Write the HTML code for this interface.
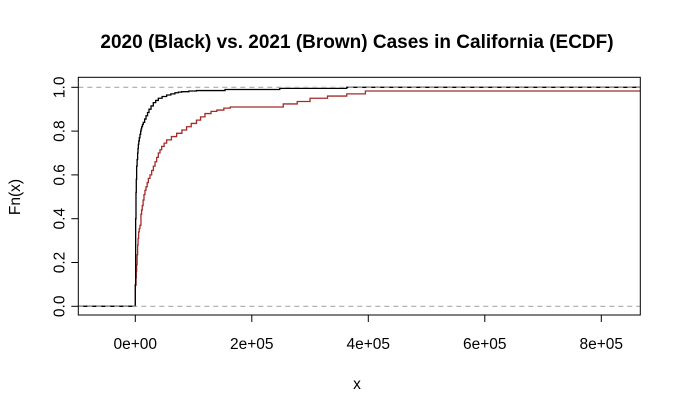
<!DOCTYPE html>
<html><head><meta charset="utf-8"><style>
body{margin:0;background:#fff;}
svg text{font-family:"Liberation Sans",Arial,sans-serif;}
</style></head><body>
<svg id="chart" width="681" height="413" viewBox="0 0 681 413" xmlns="http://www.w3.org/2000/svg">
<rect width="681" height="413" fill="#fff"/>
<text x="357" y="48" text-anchor="middle" font-size="19" font-weight="bold">2020 (Black) vs. 2021 (Brown) Cases in California (ECDF)</text>
<text x="357" y="389" text-anchor="middle" font-size="15.5">x</text>
<text transform="translate(20,197) rotate(-90)" text-anchor="middle" font-size="15.5">Fn(x)</text>
<g id="series"></g>
<g id="grid"></g>
<g id="axes"></g>
<rect x="78.3" y="77.3" width="562" height="237.7" fill="none" stroke="#000" stroke-width="1"/>
</svg>
<script>
// data (x in cases, F cumulative fraction)
const x2020 = [0,0,600,1200,1700,2300,3100,4000,4600,5200,6000,6900,8000,9200,10000,10900,12300,13700,16000,18400,21000,23500,27000,30900,35000,39500,46000,53800,61000,68000,74000,79600,92000,105000,154000,248000,363000];
const f2020 = [0,0.097,0.40,0.52,0.58,0.64,0.67,0.70,0.72,0.74,0.755,0.77,0.785,0.80,0.81,0.82,0.83,0.84,0.855,0.87,0.885,0.90,0.915,0.93,0.94,0.95,0.958,0.965,0.97,0.975,0.978,0.98,0.983,0.985,0.99,0.995,1.0];
const x2021 = [0,0,1200,1700,2300,3100,4000,4800,5700,6800,8000,9700,10800,12000,13400,14900,16600,18400,20400,22400,25200,28100,31000,33900,36700,39500,42400,45300,49500,53800,62000,71000,80000,88000,96000,105000,112000,119600,130000,140000,152000,163000,254000,278000,300000,330000,363000,395000];
const f2021 = [0,0.097,0.13,0.16,0.19,0.235,0.28,0.31,0.34,0.355,0.37,0.42,0.44,0.46,0.485,0.51,0.53,0.546,0.565,0.584,0.60,0.62,0.64,0.66,0.68,0.70,0.715,0.73,0.745,0.76,0.775,0.79,0.805,0.82,0.835,0.85,0.865,0.88,0.89,0.896,0.905,0.91,0.924,0.935,0.95,0.96,0.97,0.983];
const xTicks = [0,200000,400000,600000,800000];
const xTickLabels = ["0e+00","2e+05","4e+05","6e+05","8e+05"];
const yTicks = [0,0.2,0.4,0.6,0.8,1.0];
const yTickLabels = ["0.0","0.2","0.4","0.6","0.8","1.0"];

const NS="http://www.w3.org/2000/svg";
const L=78.3,R=640.3,T=77.3,B=315;
function sx(v){return 135.3+v/200000*116.5;}
function sy(v){return 306.3-v*219;}
function mk(tag,attrs,parent){const e=document.createElementNS(NS,tag);for(const k in attrs)e.setAttribute(k,attrs[k]);parent.appendChild(e);return e;}
const axes=document.getElementById('axes'),series=document.getElementById('series'),grid=document.getElementById('grid');

function stepPath(xs,fs){
  let d="M"+L+","+sy(0);
  for(let i=0;i<xs.length;i++){d+=" H"+sx(xs[i])+" V"+sy(fs[i]);}
  d+=" H"+R;
  return d;
}
const p1=mk('path',{d:stepPath(x2021,f2021),fill:'none',stroke:'#a52a2a','stroke-width':1.3},series);


const p0=mk('path',{d:stepPath(x2020,f2020),fill:'none',stroke:'#000','stroke-width':1.3},series);



[0,1].forEach(v=>{
  const g=mk('line',{x1:L,x2:R,y1:sy(v),y2:sy(v),stroke:'#aaa','stroke-dasharray':'5,4','stroke-width':1.2},grid);
  
  
});

xTicks.forEach((v,i)=>{
  const t=mk('line',{x1:sx(v),x2:sx(v),y1:B,y2:B+7,stroke:'#000'},axes);
  
  
  const tx=mk('text',{x:sx(v),y:B+34,'text-anchor':'middle','font-size':15.5},axes);
  tx.textContent=xTickLabels[i];
  
  
});
yTicks.forEach((v,i)=>{
  const t=mk('line',{x1:L-7,x2:L,y1:sy(v),y2:sy(v),stroke:'#000'},axes);
  
  
  const tx=mk('text',{transform:'translate('+(L-14)+','+sy(v)+') rotate(-90)','text-anchor':'middle','font-size':15.5},axes);
  tx.textContent=yTickLabels[i];
  
  
});
</script>
</body></html>
